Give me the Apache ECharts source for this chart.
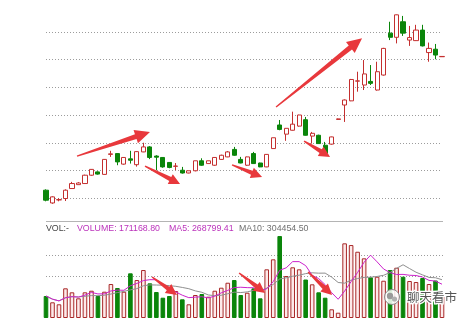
<!DOCTYPE html>
<html><head><meta charset="utf-8">
<script src="https://cdn.jsdelivr.net/npm/echarts@6/dist/echarts.min.js"></script>
<style>html,body{margin:0;padding:0;background:#fff}#c{width:467px;height:319px}</style>
</head><body><div id="c"></div>
<script>
// [open, close, low, high]
const ohlc = [
[10.29,9.93,9.89,10.32],[9.83,10.05,9.80,10.07],[9.94,9.95,9.89,10.00],[9.99,10.29,9.90,10.32],
[10.35,10.53,10.34,10.59],[10.49,10.55,10.49,10.58],[10.53,10.83,10.52,10.85],[10.83,11.04,10.81,11.05],
[10.95,10.87,10.85,10.97],[10.86,11.40,10.85,11.41],[11.58,11.60,11.49,11.71],[11.61,11.31,11.19,11.62],
[11.23,11.47,11.21,11.48],[11.42,11.37,11.25,11.71],[11.21,11.68,11.14,11.70],[11.67,11.85,11.66,12.00],
[11.85,11.47,11.41,11.88],[11.52,11.48,11.01,11.55],[11.47,11.13,11.10,11.48],[11.29,11.11,11.08,11.30],
[11.15,11.16,11.01,11.27],[11.01,10.91,10.89,11.13],[10.91,10.99,10.90,10.99],[10.99,11.35,10.97,11.35],
[11.35,11.19,11.17,11.44],[11.25,11.35,11.25,11.35],[11.19,11.47,11.17,11.48],[11.40,11.55,11.39,11.57],
[11.49,11.67,11.48,11.70],[11.76,11.55,11.53,11.85],[11.40,11.27,11.26,11.49],[11.19,11.49,11.17,11.50],
[11.61,11.25,11.25,11.67],[11.27,11.13,11.12,11.28],[11.13,11.58,11.12,11.59],[11.79,12.18,11.79,12.18],
[12.64,12.48,12.45,12.82],[12.31,12.52,12.07,12.53],[12.45,12.67,12.44,13.12],[12.60,13.00,12.58,13.01],
[12.83,12.27,12.26,12.93],[12.24,12.34,11.97,12.39],[12.27,11.97,11.97,12.29],[11.91,11.61,11.59,12.03],
[11.95,12.21,11.93,12.22],[12.84,12.86,12.83,12.87],[13.36,13.54,12.75,13.56],[13.51,14.28,13.50,14.30],
[14.22,14.23,13.84,14.56],[14.08,14.48,13.90,14.98],[14.21,14.14,14.08,14.80],[13.90,14.56,13.88,14.92],
[14.44,15.40,14.42,15.42],[15.95,15.80,15.70,16.36],[15.80,16.61,15.58,16.62],[16.36,15.95,15.85,16.57],
[15.70,15.79,15.49,16.21],[15.68,16.06,15.67,16.25],[16.06,15.49,15.47,16.25],[15.25,15.40,14.92,15.61],
[15.37,15.16,15.01,15.56],[15.10,15.11,15.09,15.11]
];
const volumes = [
174900,124800,108900,236100,204300,156600,204300,217000,174900,209100,
270300,238500,209100,355400,302100,381600,275900,206700,161400,174900,
214700,148700,108900,182900,190800,169300,217000,240900,280600,302100,
182900,201100,236100,156600,387200,466700,651900,333900,403100,387200,
306100,267900,204300,161400,69200,42100,593900,580400,527100,474600,
323600,328300,296500,381600,399900,328300,294200,286200,318000,270300,
298328,171168.8
];
const headerLabels = ['VOL:-', 'VOLUME: 171168.80', 'MA5: 268799.41', 'MA10: 304454.50'];
const watermarkText = '聊天看市';
// annotation arrows: [fromIndex, fromValue, toIndex, toValue]
const priceArrows = [
  [4.78, 11.52, 16.02, 12.39],
  [15.25, 11.16, 20.65, 10.51],
  [28.66, 11.20, 33.28, 10.77],
  [35.44, 13.29, 48.69, 15.77],
  [39.75, 12.06, 43.76, 11.49]
];
const volumeArrows = [
  [16.33, 326000, 20.18, 182900],
  [29.74, 357800, 33.75, 198800],
  [40.37, 365700, 44.07, 182900]
];
const categories = ohlc.map((_, i) => String(i + 1));

function movingAverage(n) {
  return volumes.map((_, i) => {
    const w = volumes.slice(Math.max(0, i - n + 1), i + 1);
    return Math.round(w.reduce((a, b) => a + b, 0) / w.length);
  });
}
const UP = '#c42f2f', DOWN = '#0a850a';
const volItems = volumes.map((v, i) => {
  const up = ohlc[i][1] >= ohlc[i][0];
  return { value: v, itemStyle: { color: up ? '#fdeaea' : DOWN, borderColor: up ? '#a82828' : DOWN, borderWidth: 1 } };
});
const dotted = { color: '#9c9c9c', type: [1, 2], width: 1 };
const hiddenAxis = { axisLine: { show: false }, axisTick: { show: false }, axisLabel: { show: false } };

const chart = echarts.init(document.getElementById('c'), null, { renderer: 'canvas' });
chart.setOption({
  animation: false,
  backgroundColor: '#fff',
  grid: [
    { left: 46, right: 25, top: 4, bottom: 93 },
    { left: 46, right: 25, top: 230, bottom: 1 },
    { left: 46, right: 24, top: 234, bottom: 22 }
  ],
  xAxis: [
    { type: 'category', gridIndex: 0, data: categories, boundaryGap: false, show: false },
    { type: 'category', gridIndex: 1, data: categories, boundaryGap: false, show: false },
    { type: 'value', gridIndex: 2, min: 0, max: 1, show: false }
  ],
  yAxis: [
    Object.assign({ type: 'value', gridIndex: 0, min: 9, max: 17, interval: 1,
      splitLine: { show: true, showMinLine: false, showMaxLine: false, lineStyle: dotted } }, hiddenAxis),
    Object.assign({ type: 'value', gridIndex: 1, min: 0, max: 700000, splitLine: { show: false } }, hiddenAxis),
    Object.assign({ type: 'value', gridIndex: 2, min: 1, max: 4, interval: 1,
      splitLine: { show: true, showMinLine: false, showMaxLine: false, lineStyle: dotted } }, hiddenAxis)
  ],
  series: [
    { type: 'candlestick', xAxisIndex: 0, yAxisIndex: 0, data: ohlc, barWidth: 4.6,
      itemStyle: { color: '#ffffff', color0: DOWN, borderColor: UP, borderColor0: DOWN, borderWidth: 1 } },
    { type: 'bar', xAxisIndex: 1, yAxisIndex: 1, data: volItems, barWidth: 4.6 },
    { type: 'line', xAxisIndex: 1, yAxisIndex: 1, data: movingAverage(10), symbol: 'none',
      lineStyle: { color: '#8f8f8f', width: 1 }, z: 3 },
    { type: 'line', xAxisIndex: 1, yAxisIndex: 1, data: movingAverage(5), symbol: 'none',
      lineStyle: { color: '#cc22cc', width: 1 }, z: 4 },
    { type: 'line', xAxisIndex: 2, yAxisIndex: 2, data: [] }
  ]
});

function arrowPoly(x0, y0, x1, y1) {
  const dx = x1 - x0, dy = y1 - y0, L = Math.hypot(dx, dy);
  const ux = dx / L, uy = dy / L, nx = -uy, ny = ux;
  const big = L > 60;
  const hl = big ? 15 : 11, hw = big ? 7 : 5.5, sw = big ? 2.6 : 2.2, tw = 0.7;
  const bx = x1 - ux * hl, by = y1 - uy * hl;
  return [[x0 + nx * tw, y0 + ny * tw], [bx + nx * sw, by + ny * sw], [bx + nx * hw, by + ny * hw],
    [x1, y1], [bx - nx * hw, by - ny * hw], [bx - nx * sw, by - ny * sw], [x0 - nx * tw, y0 - ny * tw]];
}
function xPix(axisIdx, idx) {
  const p0 = chart.convertToPixel({ xAxisIndex: axisIdx }, categories[0]);
  const pN = chart.convertToPixel({ xAxisIndex: axisIdx }, categories[categories.length - 1]);
  return p0 + (pN - p0) * idx / (categories.length - 1);
}
const elements = [];
priceArrows.concat(volumeArrows.map(a => a.concat(['v']))).forEach(a => {
  const ax = a[4] === 'v' ? 1 : 0;
  const x0 = xPix(ax, a[0]), x1 = xPix(ax, a[2]);
  const y0 = chart.convertToPixel({ yAxisIndex: ax }, a[1]);
  const y1 = chart.convertToPixel({ yAxisIndex: ax }, a[3]);
  elements.push({ type: 'polygon', z: 100, shape: { points: arrowPoly(x0, y0, x1, y1) },
    style: { fill: '#e8383c' } });
});
elements.push({ type: 'line', z: 50, shape: { x1: 46, y1: 221.5, x2: 443, y2: 221.5 },
  style: { stroke: '#b4b4b4', lineWidth: 1 } });
const hx = [46, 77, 169, 239];
const hc = ['#444444', '#bb33bb', '#bb33bb', '#707070'];
headerLabels.forEach((t, i) => elements.push({ type: 'text', z: 50, x: hx[i], y: 229,
  style: { text: t, fill: hc[i], font: '8.8px "Liberation Sans", Arial, sans-serif', textVerticalAlign: 'middle' } }));
// watermark
elements.push({ type: 'circle', z: 110, shape: { cx: 392, cy: 297, r: 7.5 },
  style: { fill: 'rgba(255,255,255,0.85)', stroke: '#8a8a8a', lineWidth: 1 } });
elements.push({ type: 'circle', z: 111, shape: { cx: 390, cy: 296, r: 3.2 }, style: { fill: '#9a9a9a' } });
elements.push({ type: 'circle', z: 111, shape: { cx: 394.5, cy: 299, r: 2.6 }, style: { fill: '#b0b0b0' } });
elements.push({ type: 'text', z: 110, x: 407, y: 297,
  style: { text: watermarkText, fill: '#555', font: '12.5px "Noto Sans CJK SC", sans-serif',
    textVerticalAlign: 'middle', stroke: '#ffffff', lineWidth: 2.5 } });
chart.setOption({ graphic: { elements: elements } });
</script></body></html>
